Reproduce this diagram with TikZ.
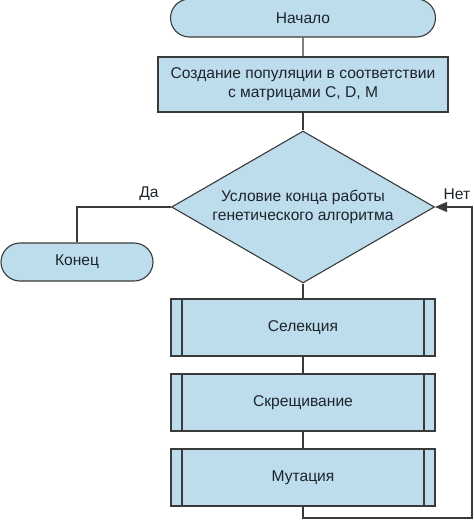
\documentclass[tikz,border=0pt]{standalone}
\usepackage{fontspec}
\setmainfont{Liberation Sans}
\usetikzlibrary{shapes.geometric}
\usetikzlibrary{shapes.misc}
\usetikzlibrary{arrows.meta}

\definecolor{boxFill}{RGB}{189,220,236}
\definecolor{boxDraw}{RGB}{58,58,58}
\definecolor{textDark}{RGB}{30,36,44}

\begin{document}
\begin{tikzpicture}
[x=1pt,y=-1pt,
  lineDecorate/.style={-,line width=1.1pt,draw=boxDraw},%
  arrowDecorate/.style={line width=1.1pt,draw=boxDraw,-{Triangle[length=12pt,width=10pt]}},
  nodeDecorate/.style={draw=boxDraw,line width=1.1pt,fill=boxFill,text=textDark,
    font=\fontsize{15.6}{19}\selectfont,align=center,inner sep=0pt},
  termDecorate/.style={nodeDecorate,rounded rectangle,minimum height=38pt},
  stepDecorate/.style={nodeDecorate,rectangle},
  procDecorate/.style={nodeDecorate,rectangle,minimum width=264pt,minimum height=57pt,
    path picture={\draw[boxDraw,line width=1.1pt]
      ([xshift=11pt]path picture bounding box.north west) --
      ([xshift=11pt]path picture bounding box.south west)
      ([xshift=-11pt]path picture bounding box.north east) --
      ([xshift=-11pt]path picture bounding box.south east);}},
  condDecorate/.style={nodeDecorate,diamond,aspect=1.73,
    minimum width=263pt,minimum height=152pt},
  labelDecorate/.style={text=textDark,font=\fontsize{15.6}{19}\selectfont}]
%%
\useasboundingbox (0,0) rectangle (474,520);
%%
%%%%%%%%%%%%%%%%%%%%%%%%%%%%%%%%%%%%%%%%%%%%%%%%%%%%%%%%%%%%%%%%%%%%%%%%%%%
%%
%% start, population, condition
\node (start) at (303,18) [termDecorate,minimum width=265pt] {Начало};
\node (create) at (303,84.5) [stepDecorate,minimum width=290pt,minimum height=55pt]
  {Создание популяции в соответствии\\с матрицами C, D, M};
\node (cond) at (303,207) [condDecorate]
  {Условие конца работы\\генетического алгоритма};
\node (finish) at (77,262) [termDecorate,minimum width=152pt] {Конец};
%%
%%%%%%%%%%%%%%%%%%%%%%%%%%%%%%%%%%%%%%%%%%%%%%%%%%%%%%%%%%%%%%%%%%%%%%%%%%%
%%
%% operators of the algorithm
\foreach \nodename/\y/\txt in {
  sel/327.5/Селекция, cross/402.5/Скрещивание, mut/477.5/Мутация}
{
  \node (\nodename) at (303,\y) [procDecorate] {\txt};
}
%%
%%%%%%%%%%%%%%%%%%%%%%%%%%%%%%%%%%%%%%%%%%%%%%%%%%%%%%%%%%%%%%%%%%%%%%%%%%%
%%
%% edges or lines
\path
\foreach \startnode/\endnode in {
  start/create, create/cond, cond/sel, sel/cross, cross/mut}
{
  (\startnode) edge[lineDecorate] node {} (\endnode)
};
%% yes branch
\draw[lineDecorate] (cond.west) -| (finish.north);
\node (yes) at (149,194) [labelDecorate] {Да};
%% no branch, back to the condition
\coordinate (loopA) at (303,518);
\coordinate (loopB) at (472,518);
\draw[arrowDecorate] (mut.south) -- (loopA) -- (loopB) |- (cond.east);
\node (no) at (457,194) [labelDecorate] {Нет};
\end{tikzpicture}
\end{document}
